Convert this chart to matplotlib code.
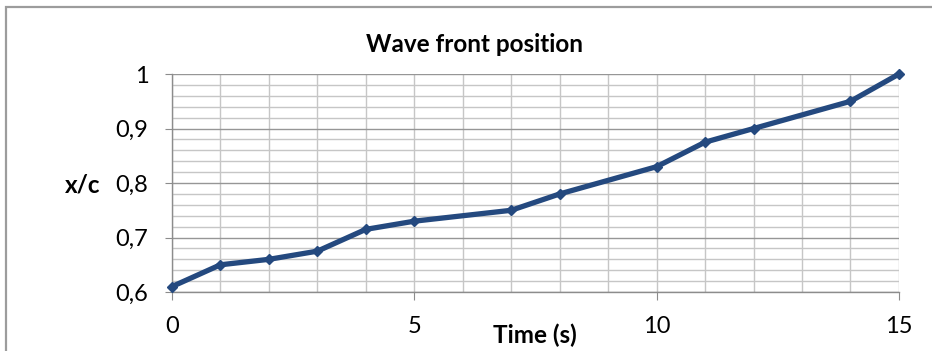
import matplotlib.pyplot as plt
from matplotlib.patches import Rectangle
from matplotlib.ticker import MultipleLocator, FuncFormatter

plt.rcParams['font.family'] = ['Lato', 'DejaVu Sans']

# data
time_s = [0, 1, 2, 3, 4, 5, 7, 8, 10, 11, 12, 14, 15]
x_over_c = [0.61, 0.65, 0.66, 0.675, 0.715, 0.73, 0.75, 0.78, 0.83, 0.875, 0.90, 0.95, 1.0]

fig = plt.figure(figsize=(9.32, 3.51), dpi=100)
ax = fig.add_axes([0.1845, 0.168, 0.780, 0.621])

# outer chart border (runs off the right and bottom edge like the source)
fig.patches.append(Rectangle((0.0065, -0.05), 1.05, 1.03, transform=fig.transFigure,
                             fill=False, edgecolor='#9c9c9c', linewidth=1.6))

ax.plot(time_s, x_over_c, color='#24497f', linewidth=3.8, marker='D', markersize=5.5,
        solid_joinstyle='round', solid_capstyle='round', zorder=5, clip_on=False)

ax.set_xlim(0, 15)
ax.set_ylim(0.6, 1.0)
ax.xaxis.set_major_locator(MultipleLocator(5))
ax.xaxis.set_minor_locator(MultipleLocator(1))
ax.yaxis.set_major_locator(MultipleLocator(0.1))
ax.yaxis.set_minor_locator(MultipleLocator(0.02))
ax.yaxis.set_major_formatter(FuncFormatter(lambda v, p: f"{v:.1f}".replace('.', ',').replace('1,0', '1')))

ax.grid(which='minor', color='#c6c6c6', linewidth=1.0)
ax.grid(which='major', axis='y', color='#969696', linewidth=1.0)
ax.grid(which='major', axis='x', color='#c6c6c6', linewidth=1.0)
ax.set_axisbelow(True)

for s in ['top', 'right']:
    ax.spines[s].set_visible(False)
for s in ['left', 'bottom']:
    ax.spines[s].set_color('#8c8c8c')
    ax.spines[s].set_linewidth(1.0)

ax.tick_params(which='major', length=6, color='#8c8c8c', labelsize=17, labelcolor='black')
ax.tick_params(axis='x', which='major', pad=11)
ax.tick_params(axis='y', which='major', length=5, pad=12)
ax.tick_params(which='minor', length=0)

fig.text(0.509, 0.872, 'Wave front position', fontsize=17.5, fontweight='bold',
         ha='center', va='center')
fig.text(0.574, 0.046, 'Time (s)', fontsize=17.5, fontweight='bold', ha='center', va='center')
fig.text(0.089, 0.473, 'x/c', fontsize=17.5, fontweight='bold', ha='center', va='center')

fig.savefig('out.png', dpi=100)
